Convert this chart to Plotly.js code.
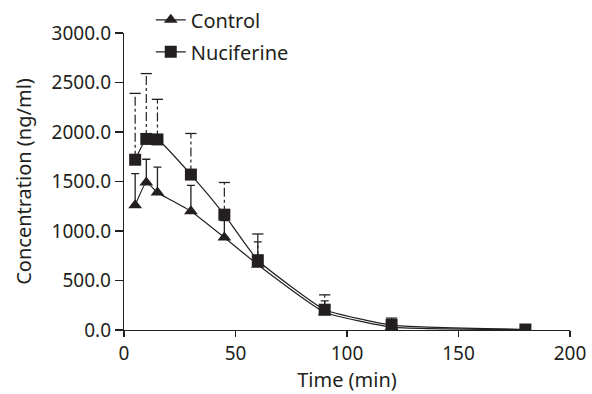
<!DOCTYPE html>
<html><head><meta charset="utf-8">
<script src="https://cdn.plot.ly/plotly-3.0.1.min.js"></script>
<style>body{margin:0;background:#fff}#c{width:592px;height:394px}</style>
</head><body><div id="c"></div>
<script>
const time = [5, 10, 15, 30, 45, 60, 90, 120, 180];
const controlMean = [1260, 1490, 1390, 1200, 935, 660, 180, 30, 5];
const controlErr  = [320, 235, 255, 260, 170, 230, 115, 70, 5];
const nucMean = [1720, 1930, 1925, 1570, 1165, 705, 205, 50, 5];
const nucErr  = [670, 660, 405, 415, 325, 265, 150, 70, 5];
const xTicks = [0, 50, 100, 150, 200];
const yTicks = [0, 500, 1000, 1500, 2000, 2500, 3000];

const ink = '#231f20';
const font = "'Noto Sans', 'Open Sans', sans-serif";

// Dash-dot upper error bars for Nuciferine built from the data arrays
const ebX = [], ebY = [], capX = [], capY = [];
time.forEach((t, i) => {
  ebX.push(t, t, null);
  ebY.push(nucMean[i], nucMean[i] + nucErr[i], null);
  capX.push(t);
  capY.push(nucMean[i] + nucErr[i]);
});

const traces = [
  {x: ebX, y: ebY, mode: 'lines', line: {color: ink, width: 1.2, dash: 'dashdot'},
   showlegend: false, hoverinfo: 'skip'},
  {x: capX, y: capY, mode: 'markers', marker: {symbol: 'line-ew', size: 8, line: {color: ink, width: 1.3}},
   showlegend: false, hoverinfo: 'skip'},
  {x: time, y: controlMean, name: 'Control', mode: 'lines+markers', legendgroup: 'a',
   line: {color: ink, width: 1.2, shape: 'spline', smoothing: 0.4},
   marker: {symbol: 'triangle-up', size: 12, color: ink},
   error_y: {type: 'data', array: controlErr, arrayminus: controlErr.map(() => 0), symmetric: false,
             color: ink, thickness: 1.3, width: 4}},
  {x: time, y: nucMean, name: 'Nuciferine', mode: 'lines+markers', legendgroup: 'b',
   line: {color: ink, width: 1.2, shape: 'spline', smoothing: 0.4},
   marker: {symbol: 'square', size: 12, color: ink}}
];

const layout = {
  width: 592, height: 394,
  margin: {l: 124, r: 22, t: 33, b: 64, autoexpand: false},
  paper_bgcolor: '#fff', plot_bgcolor: '#fff',
  font: {family: font, size: 20, color: ink},
  showlegend: true,
  legend: {x: 0.06, y: 1.11, xanchor: 'left', yanchor: 'top', bgcolor: 'rgba(0,0,0,0)',
           font: {family: font, size: 20, color: ink}, tracegroupgap: 3, itemwidth: 30},
  xaxis: {range: [0, 200], tickvals: xTicks, ticktext: xTicks.map(String),
          showgrid: false, zeroline: false, showline: true, linecolor: ink, linewidth: 1.2,
          ticks: 'outside', ticklen: 6, tickwidth: 1.2, tickcolor: ink,
          tickfont: {size: 19, color: ink},
          title: {text: 'Time (min)', font: {size: 20, color: ink}, standoff: 4}},
  yaxis: {range: [0, 3000], tickvals: yTicks, ticktext: yTicks.map(v => v.toFixed(1)),
          showgrid: false, zeroline: false, showline: true, linecolor: ink, linewidth: 1.2,
          ticks: 'outside', ticklen: 8, tickwidth: 1.2, tickcolor: ink,
          tickfont: {size: 19, color: ink},
          title: {text: 'Concentration (ng/ml)', font: {size: 20, color: ink}, standoff: 14}}
};

Plotly.newPlot('c', traces, layout, {displayModeBar: false, staticPlot: true});
</script></body></html>
